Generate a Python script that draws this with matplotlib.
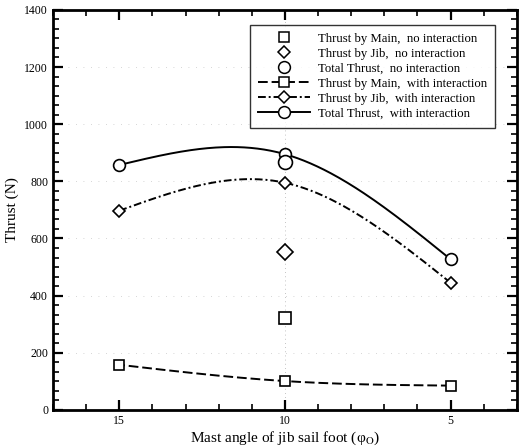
import numpy as np
import matplotlib
matplotlib.use("Agg")
import matplotlib.pyplot as plt
from matplotlib.ticker import MultipleLocator, FixedLocator
from matplotlib.lines import Line2D

plt.rcParams['font.family'] = ['Liberation Serif', 'DejaVu Serif']
plt.rcParams['mathtext.fontset'] = 'stix'

# Data
angle = [15, 10, 5]
main_with = [158, 101, 85]
jib_with = [697, 795, 445]
total_with = [857, 895, 527]

angle_no = [10]
main_no = [321]
jib_no = [552]
total_no = [869]

xticks = [15, 10, 5]
yticks = [0, 200, 400, 600, 800, 1000, 1200, 1400]

fig = plt.figure(figsize=(5.19, 4.48), dpi=100)
ax = fig.add_axes([0.102, 0.085, 0.894, 0.893])


def natural_spline(x, y, n=200):
    x = np.asarray(x, float)
    y = np.asarray(y, float)
    order = np.argsort(x)
    x, y = x[order], y[order]
    k = len(x)
    h = np.diff(x)
    A = np.zeros((k, k))
    r = np.zeros(k)
    A[0, 0] = A[-1, -1] = 1
    for i in range(1, k - 1):
        A[i, i - 1] = h[i - 1]
        A[i, i] = 2 * (h[i - 1] + h[i])
        A[i, i + 1] = h[i]
        r[i] = 6 * ((y[i + 1] - y[i]) / h[i] - (y[i] - y[i - 1]) / h[i - 1])
    M = np.linalg.solve(A, r)
    xs = np.linspace(x[0], x[-1], n)
    idx = np.clip(np.searchsorted(x, xs) - 1, 0, k - 2)
    x0, x1 = x[idx], x[idx + 1]
    hh = x1 - x0
    ys = (M[idx] * (x1 - xs) ** 3 / (6 * hh) + M[idx + 1] * (xs - x0) ** 3 / (6 * hh)
          + (y[idx] / hh - M[idx] * hh / 6) * (x1 - xs)
          + (y[idx + 1] / hh - M[idx + 1] * hh / 6) * (xs - x0))
    return xs, ys


# faint grid
for yv in yticks[1:-1]:
    ax.axhline(yv, color='#c8c8c8', lw=0.6, ls=(0, (1, 8)), zorder=0)
ax.axvline(10, color='#b0b0b0', lw=0.6, ls=(0, (1, 4)), zorder=0)

lw = 1.4
dash_main = (0, (5, 2))
dash_jib = (0, (4, 1.5, 1, 1.5))
ax.plot(*natural_spline(angle, main_with), color='black', lw=lw, ls=dash_main)
ax.plot(*natural_spline(angle, jib_with), color='black', lw=lw, ls=dash_jib)
ax.plot(*natural_spline(angle, total_with), color='black', lw=lw, ls='-')

mk = dict(color='black', mfc='white', mec='black', mew=1.2, ls='none')
ax.plot(angle, main_with, marker='s', ms=6.5, **mk)
ax.plot(angle, jib_with, marker='D', ms=6.2, **mk)
ax.plot(angle, total_with, marker='o', ms=8.5, **mk)
ax.plot(angle_no, main_no, marker='s', ms=8, **mk)
ax.plot(angle_no, jib_no, marker='D', ms=8.5, **mk)
ax.plot(angle_no, total_no, marker='o', ms=10, **mk)

ax.set_xlim(17, 3)
ax.set_ylim(0, 1400)
ax.xaxis.set_major_locator(FixedLocator(xticks))
ax.xaxis.set_minor_locator(MultipleLocator(1))
ax.yaxis.set_major_locator(FixedLocator(yticks))
ax.yaxis.set_minor_locator(MultipleLocator(200 / 6))
ax.tick_params(which='both', direction='in', top=True, right=True, labelsize=8.5, width=1.2)
ax.tick_params(which='major', length=7, width=1.6)
ax.tick_params(which='minor', length=4)
for s in ax.spines.values():
    s.set_linewidth(2)

ax.set_ylabel('Thrust (N)', fontsize=11, labelpad=4)
ax.set_xlabel(r'Mast angle of jib sail foot (φ$_{\rm O}$)', fontsize=11, labelpad=2)

lmk = dict(mfc='white', mec='black', mew=1.1)
handles = [
    Line2D([], [], ls='none', marker='s', ms=6.5, **lmk),
    Line2D([], [], ls='none', marker='D', ms=6.5, **lmk),
    Line2D([], [], ls='none', marker='o', ms=8.5, **lmk),
    Line2D([], [], color='black', lw=lw, ls=dash_main, marker='s', ms=6.5, **lmk),
    Line2D([], [], color='black', lw=lw, ls=dash_jib, marker='D', ms=6.5, **lmk),
    Line2D([], [], color='black', lw=lw, ls='-', marker='o', ms=8.5, **lmk),
]
labels = ['Thrust by Main,  no interaction',
          'Thrust by Jib,  no interaction',
          'Total Thrust,  no interaction',
          'Thrust by Main,  with interaction',
          'Thrust by Jib,  with interaction',
          'Total Thrust,  with interaction']
leg = ax.legend(handles, labels, loc='upper right', bbox_to_anchor=(0.952, 0.9625),
                fontsize=9.2, frameon=True, fancybox=False, edgecolor='black',
                handlelength=4.1, handletextpad=0.6, labelspacing=0.24, borderpad=0.6,
                borderaxespad=0)
leg.get_frame().set_linewidth(1.0)

fig.savefig('out.png', dpi=100)
